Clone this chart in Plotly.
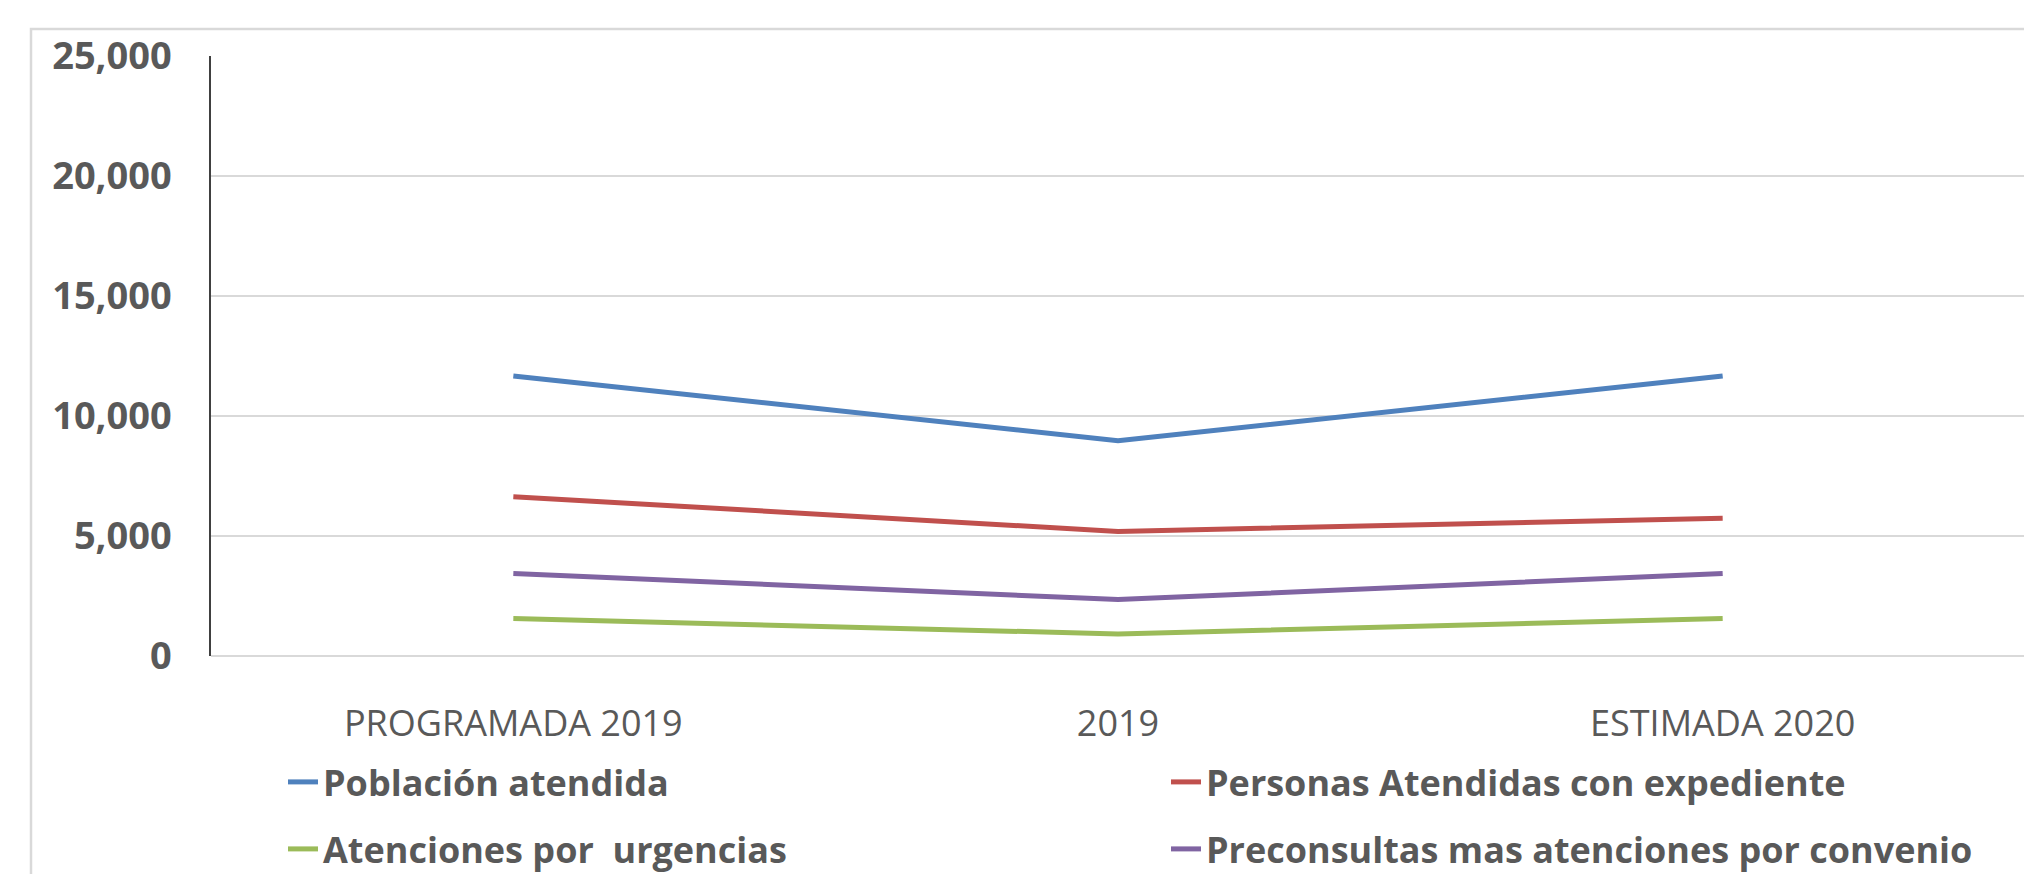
import plotly.graph_objects as go

categorias = ["PROGRAMADA 2019", "2019", "ESTIMADA 2020"]
poblacion_atendida = [11670, 8970, 11670]
personas_expediente = [6640, 5190, 5740]
atenciones_urgencias = [1560, 920, 1560]
preconsultas_convenio = [3440, 2350, 3440]
y_ticks = [0, 5000, 10000, 15000, 20000, 25000]

GRAY = "#595959"
W, H = 2032, 874
OFF = 8  # default page margin around the plot div
# plot area in page pixels: x 211..2025, y 56..656
L, T = 211 - OFF, 56 - OFF
R, B = W - (2025 - OFF), H - (656 - OFF)
PW, PH = W - L - R, H - T - B


def px_x(x):
    return (x - OFF - L) / PW


def px_y(y):
    return (H - B - (y - OFF)) / PH


series = [
    ("Población atendida", poblacion_atendida, "#4F81BD", "legend"),
    ("Personas Atendidas con expediente", personas_expediente, "#C0504D", "legend"),
    ("Atenciones por\u00a0 urgencias", atenciones_urgencias, "#9BBB59", "legend2"),
    ("Preconsultas mas atenciones por convenio", preconsultas_convenio, "#8064A2", "legend2"),
]

fig = go.Figure()
for name, vals, color, leg in series:
    fig.add_trace(go.Scatter(
        x=categorias, y=vals, name=name, mode="lines",
        line=dict(color=color, width=5), legend=leg,
    ))

legend_font = dict(family="Open Sans", size=36, color=GRAY, weight="bold")
legend_common = dict(
    orientation="h", xanchor="left", yanchor="middle",
    entrywidth=838, entrywidthmode="pixels",
    font=legend_font, bgcolor="rgba(0,0,0,0)",
)

fig.update_layout(
    width=W, height=H,
    margin=dict(l=L, r=R, t=T, b=B, autoexpand=False),
    paper_bgcolor="white", plot_bgcolor="white",
    showlegend=True,
    legend=dict(x=px_x(283), y=px_y(782), **legend_common),
    legend2=dict(x=px_x(283), y=px_y(849), **legend_common),
    xaxis=dict(
        type="category", range=[-0.5, 2.5], automargin=False,
        showgrid=False, showline=False, ticks="",
        tickfont=dict(family="Open Sans", size=36, color=GRAY),
        ticklabelstandoff=43,
    ),
    yaxis=dict(
        range=[0, 25000], tickvals=y_ticks, tickformat=",", automargin=False,
        showgrid=True, gridcolor="#D9D9D9", gridwidth=1.5,
        showline=True, linecolor="#404040", linewidth=1.5,
        zeroline=True, zerolinecolor="#D9D9D9", zerolinewidth=1.5,
        ticks="", ticklabelstandoff=30,
        tickfont=dict(family="Open Sans", size=38, color=GRAY, weight="bold"),
    ),
    shapes=[dict(
        type="rect", xref="paper", yref="paper",
        x0=px_x(31), x1=px_x(2060), y0=px_y(900), y1=px_y(29),
        line=dict(color="#D9D9D9", width=2.5), fillcolor="rgba(0,0,0,0)",
        layer="below",
    )],
)

fig.write_html("out.html")
